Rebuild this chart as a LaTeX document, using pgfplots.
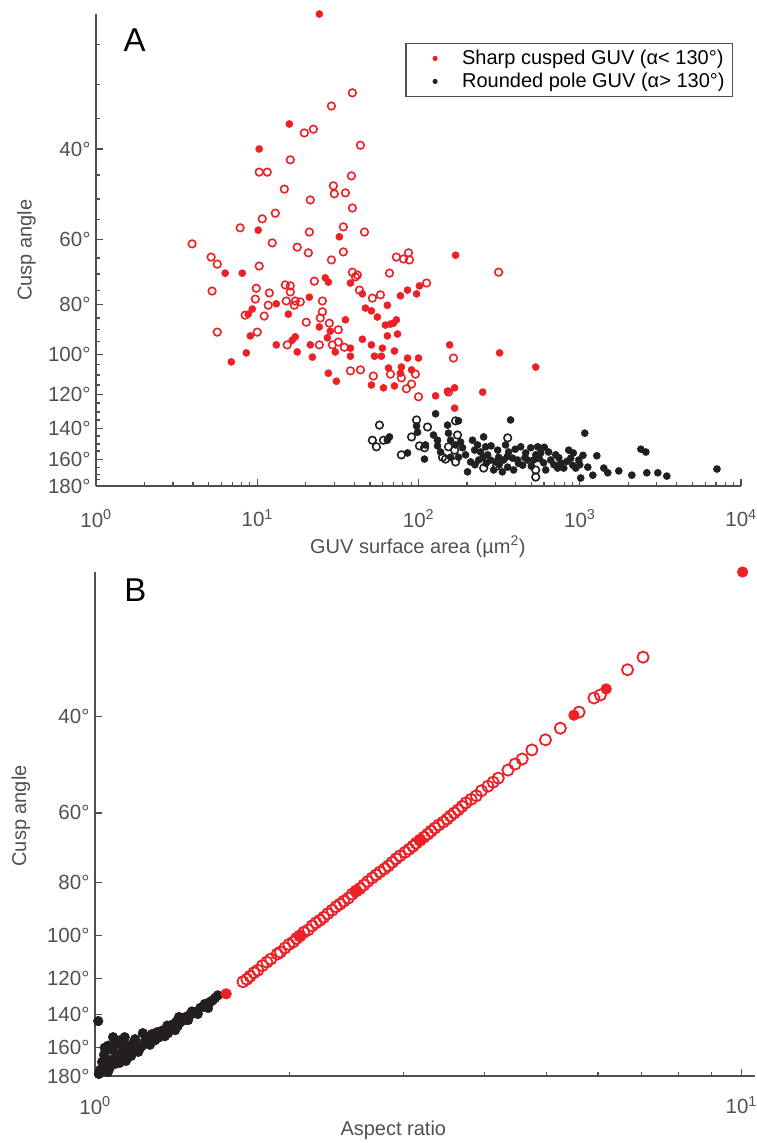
\documentclass[border=0pt]{standalone}
\usepackage{fontspec}
\setmainfont{Liberation Sans}
\usepackage{pgfplots}
\usepackage{pgfplotstable}
\pgfplotsset{compat=1.18}

\definecolor{cuspred}{RGB}{237,32,38}
\definecolor{polebk}{RGB}{35,31,32}
\definecolor{axgray}{RGB}{80,80,80}

% lx: log10 of the x value, u: place of the cusp angle on the (nonlinear) y scale, 0 = 180 deg, 1 = top
\pgfplotstableread{
lx u
1.385 1.000
1.199 0.767
1.012 0.714
1.006 0.542
1.509 0.528
0.801 0.451
0.907 0.451
1.578 0.430
1.422 0.441
1.441 0.432
2.006 0.424
1.932 0.415
1.988 0.407
1.323 0.400
1.118 0.386
1.652 0.407
1.888 0.403
1.807 0.383
1.671 0.377
1.708 0.371
1.745 0.358
0.969 0.375
0.944 0.364
1.193 0.364
1.547 0.352
1.385 0.337
1.453 0.328
0.957 0.318
1.795 0.341
1.826 0.343
1.863 0.352
1.845 0.345
1.807 0.318
1.870 0.322
1.435 0.314
1.236 0.316
1.217 0.309
1.652 0.311
1.118 0.299
1.329 0.299
1.484 0.284
1.578 0.292
1.578 0.275
1.708 0.299
1.776 0.292
1.851 0.286
1.727 0.275
1.770 0.275
1.932 0.271
2.000 0.271
0.932 0.282
0.839 0.263
1.248 0.284
1.342 0.273
1.441 0.239
1.491 0.222
1.814 0.250
1.894 0.252
1.888 0.239
1.957 0.246
1.708 0.214
1.783 0.208
1.851 0.212
2.106 0.191
2.180 0.201
2.224 0.208
2.224 0.165
2.398 0.199
2.727 0.252
2.230 0.489
2.193 0.299
2.503 0.282
}\redfullA

\pgfplotstableread{
lx u
1.590 0.833
1.460 0.805
1.292 0.748
1.348 0.756
1.640 0.722
1.205 0.691
1.012 0.665
1.062 0.665
1.584 0.657
1.168 0.629
1.472 0.636
1.478 0.619
1.547 0.621
1.329 0.606
1.590 0.589
1.112 0.578
1.031 0.566
0.894 0.547
1.323 0.538
1.534 0.549
1.665 0.538
0.596 0.513
1.093 0.515
1.248 0.506
1.317 0.494
1.534 0.496
1.460 0.479
0.714 0.485
0.752 0.470
1.012 0.466
1.863 0.485
1.938 0.494
1.907 0.481
1.944 0.479
1.820 0.451
1.590 0.453
1.621 0.447
1.609 0.443
1.354 0.434
2.050 0.430
0.720 0.413
0.994 0.419
1.075 0.409
0.988 0.396
1.174 0.426
1.205 0.424
1.205 0.411
1.180 0.392
1.236 0.392
1.267 0.390
1.068 0.383
1.404 0.392
1.634 0.415
1.714 0.398
1.764 0.405
0.925 0.362
1.043 0.360
1.230 0.383
1.391 0.356
1.404 0.369
1.304 0.347
1.447 0.345
1.503 0.331
0.752 0.326
1.000 0.326
1.186 0.299
1.385 0.299
1.466 0.299
1.503 0.305
1.540 0.294
1.578 0.244
1.640 0.246
1.720 0.233
1.826 0.237
1.894 0.229
1.981 0.237
1.957 0.216
1.925 0.206
2.000 0.189
2.186 0.199
2.217 0.271
2.497 0.453
}\redopenA

\pgfplotstableread{
lx u
1.820 0.104
1.807 0.097
1.988 0.127
1.994 0.114
2.043 0.087
2.093 0.108
2.118 0.097
2.118 0.085
2.106 0.153
2.180 0.129
2.186 0.112
2.248 0.138
2.199 0.097
2.230 0.087
2.261 0.093
2.273 0.081
2.199 0.061
2.248 0.061
1.932 0.070
2.037 0.057
2.304 0.030
2.335 0.097
2.404 0.104
2.366 0.087
2.348 0.076
2.385 0.072
2.416 0.083
2.429 0.066
2.373 0.055
2.447 0.055
2.466 0.034
2.491 0.076
2.497 0.061
2.528 0.055
2.571 0.140
2.559 0.072
2.584 0.059
2.553 0.040
2.615 0.055
2.590 0.034
2.634 0.083
2.665 0.070
2.696 0.081
2.677 0.055
2.714 0.055
2.739 0.083
2.758 0.070
2.776 0.049
2.807 0.072
2.820 0.055
2.789 0.034
2.863 0.038
2.901 0.038
2.932 0.076
2.944 0.059
2.975 0.038
3.006 0.017
3.031 0.112
2.994 0.055
3.106 0.064
3.081 0.023
3.149 0.038
3.174 0.028
3.242 0.032
3.323 0.023
3.379 0.078
3.410 0.072
3.416 0.028
3.484 0.028
3.540 0.021
3.851 0.036
2.137 0.072
2.323 0.051
2.540 0.087
2.646 0.044
2.727 0.066
2.851 0.066
2.882 0.049
2.957 0.044
2.292 0.066
2.478 0.051
2.400 0.060
2.450 0.085
2.500 0.045
2.550 0.062
2.600 0.078
2.620 0.048
2.660 0.060
2.700 0.042
2.750 0.058
2.780 0.082
2.840 0.045
2.870 0.060
2.920 0.052
2.960 0.070
3.000 0.045
3.020 0.065
3.050 0.040
2.350 0.045
2.420 0.048
2.520 0.030
}\blackfullA

\pgfplotstableread{
lx u
1.758 0.129
1.714 0.097
1.739 0.083
1.783 0.097
1.957 0.104
1.988 0.140
2.006 0.085
2.056 0.125
2.037 0.081
2.230 0.138
2.242 0.108
2.186 0.083
2.224 0.076
2.149 0.061
2.168 0.057
2.230 0.051
1.894 0.066
2.404 0.038
2.484 0.042
2.553 0.102
2.727 0.034
2.727 0.019
}\blackopenA

% panel B: lx = log10(aspect ratio)
\pgfplotstableread{
lx u
0.229 0.187
0.235 0.192
0.240 0.198
0.246 0.205
0.252 0.210
0.259 0.219
0.266 0.226
0.272 0.232
0.282 0.242
0.287 0.246
0.294 0.254
0.300 0.261
0.307 0.266
0.312 0.273
0.317 0.278
0.323 0.285
0.330 0.290
0.336 0.298
0.342 0.304
0.348 0.309
0.354 0.315
0.360 0.322
0.367 0.329
0.373 0.336
0.379 0.341
0.385 0.347
0.392 0.353
0.398 0.361
0.404 0.367
0.410 0.372
0.416 0.379
0.422 0.386
0.429 0.393
0.435 0.399
0.441 0.405
0.448 0.411
0.454 0.417
0.460 0.424
0.466 0.431
0.472 0.437
0.480 0.444
0.486 0.450
0.492 0.456
0.497 0.462
0.503 0.468
0.509 0.474
0.515 0.480
0.520 0.486
0.526 0.492
0.532 0.498
0.539 0.504
0.545 0.510
0.550 0.516
0.556 0.522
0.562 0.528
0.568 0.535
0.574 0.542
0.582 0.549
0.590 0.556
0.598 0.566
0.608 0.575
0.616 0.583
0.624 0.591
0.639 0.607
0.650 0.619
0.661 0.629
0.676 0.647
0.697 0.667
0.720 0.690
0.749 0.722
0.772 0.750
0.782 0.756
0.824 0.806
0.848 0.831
}\redopenB

\pgfplotstableread{
lx u
1.002 1.000
0.791 0.768
0.741 0.716
0.203 0.163
0.317 0.278
0.404 0.367
0.503 0.468
}\redfullB

\pgfplotstableread{
lx u
0.005 0.109
0.015 0.056
0.008 0.012
0.011 0.028
0.014 0.042
0.017 0.016
0.023 0.032
0.026 0.052
0.031 0.024
0.036 0.042
0.042 0.060
0.046 0.036
0.054 0.048
0.060 0.067
0.067 0.048
0.073 0.060
0.079 0.075
0.085 0.062
0.093 0.071
0.101 0.083
0.108 0.079
0.116 0.095
0.124 0.091
0.132 0.107
0.139 0.111
0.147 0.121
0.155 0.127
0.163 0.135
0.170 0.143
0.178 0.147
0.186 0.155
0.039 0.071
0.028 0.077
0.046 0.077
0.074 0.085
0.096 0.087
0.020 0.008
0.051 0.060
0.088 0.083
0.113 0.085
0.128 0.099
0.144 0.111
0.159 0.123
0.175 0.135
0.006 0.004
0.012 0.010
0.018 0.022
0.022 0.014
0.028 0.030
0.033 0.044
0.038 0.026
0.044 0.050
0.048 0.030
0.056 0.040
0.062 0.055
0.070 0.056
0.076 0.066
0.082 0.072
0.090 0.078
0.098 0.076
0.104 0.090
0.112 0.100
0.120 0.102
0.126 0.108
0.135 0.115
0.142 0.118
0.150 0.128
0.166 0.137
0.182 0.150
0.190 0.160
0.020 0.060
0.030 0.062
0.062 0.073
0.130 0.117
}\blackfullB

\begin{document}
\begin{tikzpicture}
\useasboundingbox (0pt,0pt) rectangle (757pt,-1143pt);

\begin{axis}[
  at={(96pt,-486pt)}, anchor=south west,
  scale only axis,
  width=645pt, height=472pt,
  xmode=log,
  xmin=1, xmax=10000,
  ymin=0, ymax=1,
  axis lines=left,
  axis line style={-, draw=axgray, line width=1.6pt},
  tick style={draw=axgray, line width=1.2pt},
  tick align=inside,
  major tick length=7pt,
  minor tick length=4pt,
  clip=false,
  xtick={1,10,100,1000,10000},
  xticklabels={10\textsuperscript{0},10\textsuperscript{1},10\textsuperscript{2},10\textsuperscript{3},10\textsuperscript{4}},
  ytick={0,0.057,0.122,0.194,0.279,0.384,0.522,0.714},
  yticklabels={180°,160°,140°,120°,100°,80°,60°,40°},
  minor ytick={0.013,0.025,0.040,0.074,0.089,0.106,0.140,0.157,0.176,0.214,0.235,0.258,0.307,0.331,0.356,0.415,0.449,0.483,0.564,0.608,0.659,0.778,0.850,0.936},
  tick label style={font=\fontsize{20.5}{24}\selectfont, text=axgray},
  xticklabel style={yshift=-20pt},
  yticklabel style={xshift=-2pt},
  label style={font=\fontsize{20}{24}\selectfont, text=axgray},
  xlabel={GUV surface area (µm\textsuperscript{2})},
  ylabel={Cusp angle},
  xlabel style={at={(axis description cs:0.499,-0.129)}, anchor=center},
  ylabel style={at={(axis description cs:-0.108,0.5)}, anchor=center},
  legend style={at={(0.988,0.939)}, anchor=north east, draw=axgray, line width=1.3pt,
    fill=white, font=\fontsize{20}{24}\selectfont, text=black,
    inner xsep=6pt, inner ysep=5pt, row sep=3pt},
  legend cell align=left,
  legend image code/.code={\path[draw=none, fill=none] (0pt,-6pt) rectangle (48pt,6pt); \fill[#1, draw=none] (23pt,0pt) circle (2.6pt);},
]
\addlegendimage{color=cuspred}
\addlegendentry{Sharp cusped GUV (α< 130°)}
\addlegendimage{color=polebk}
\addlegendentry{Rounded pole GUV (α> 130°)}
\addplot[only marks, mark=*, color=polebk, mark size=3.5pt, mark options={fill=polebk, line width=0.6pt}, forget plot]
  table[x expr=10^\thisrow{lx}, y=u] {\blackfullA};
\addplot[only marks, mark=o, color=polebk, mark size=3.8pt, mark options={line width=1.6pt}, forget plot]
  table[x expr=10^\thisrow{lx}, y=u] {\blackopenA};
\addplot[only marks, mark=*, color=cuspred, mark size=3.5pt, mark options={fill=cuspred, line width=0.6pt}, forget plot]
  table[x expr=10^\thisrow{lx}, y=u] {\redfullA};
\addplot[only marks, mark=o, color=cuspred, mark size=3.8pt, mark options={line width=1.6pt}, forget plot]
  table[x expr=10^\thisrow{lx}, y=u] {\redopenA};
\node[font=\fontsize{33}{36}\selectfont, text=black] at (rel axis cs:0.060,0.945) {A};
\end{axis}

\begin{axis}[
  at={(95pt,-1076pt)}, anchor=south west,
  scale only axis,
  width=660pt, height=504pt,
  xmode=log,
  xmin=1, xmax=10.5,
  ymin=0, ymax=1,
  axis lines=left,
  axis line style={-, draw=axgray, line width=1.6pt},
  tick style={draw=axgray, line width=1.2pt},
  tick align=inside,
  major tick length=7pt,
  minor tick length=4pt,
  clip=false,
  xtick={1,10},
  xticklabels={10\textsuperscript{0},10\textsuperscript{1}},
  ytick={0,0.057,0.122,0.194,0.279,0.384,0.522,0.714},
  yticklabels={180°,160°,140°,120°,100°,80°,60°,40°},
  tick label style={font=\fontsize{20.5}{24}\selectfont, text=axgray},
  xticklabel style={yshift=-17pt},
  yticklabel style={xshift=-2pt},
  label style={font=\fontsize{20}{24}\selectfont, text=axgray},
  xlabel={Aspect ratio},
  ylabel={Cusp angle},
  xlabel style={at={(axis description cs:0.452,-0.107)}, anchor=center},
  ylabel style={at={(axis description cs:-0.112,0.516)}, anchor=center},
]
\addplot[only marks, mark=*, color=polebk, mark size=4.8pt, mark options={fill=polebk, line width=0.6pt}]
  table[x expr=10^\thisrow{lx}, y=u] {\blackfullB};
\addplot[only marks, mark=o, color=cuspred, mark size=5.6pt, mark options={line width=1.8pt}]
  table[x expr=10^\thisrow{lx}, y=u] {\redopenB};
\addplot[only marks, mark=*, color=cuspred, mark size=5.3pt, mark options={fill=cuspred, line width=0.6pt}]
  table[x expr=10^\thisrow{lx}, y=u] {\redfullB};
\node[font=\fontsize{33}{36}\selectfont, text=black] at (rel axis cs:0.061,0.964) {B};
\end{axis}
\end{tikzpicture}
\end{document}
